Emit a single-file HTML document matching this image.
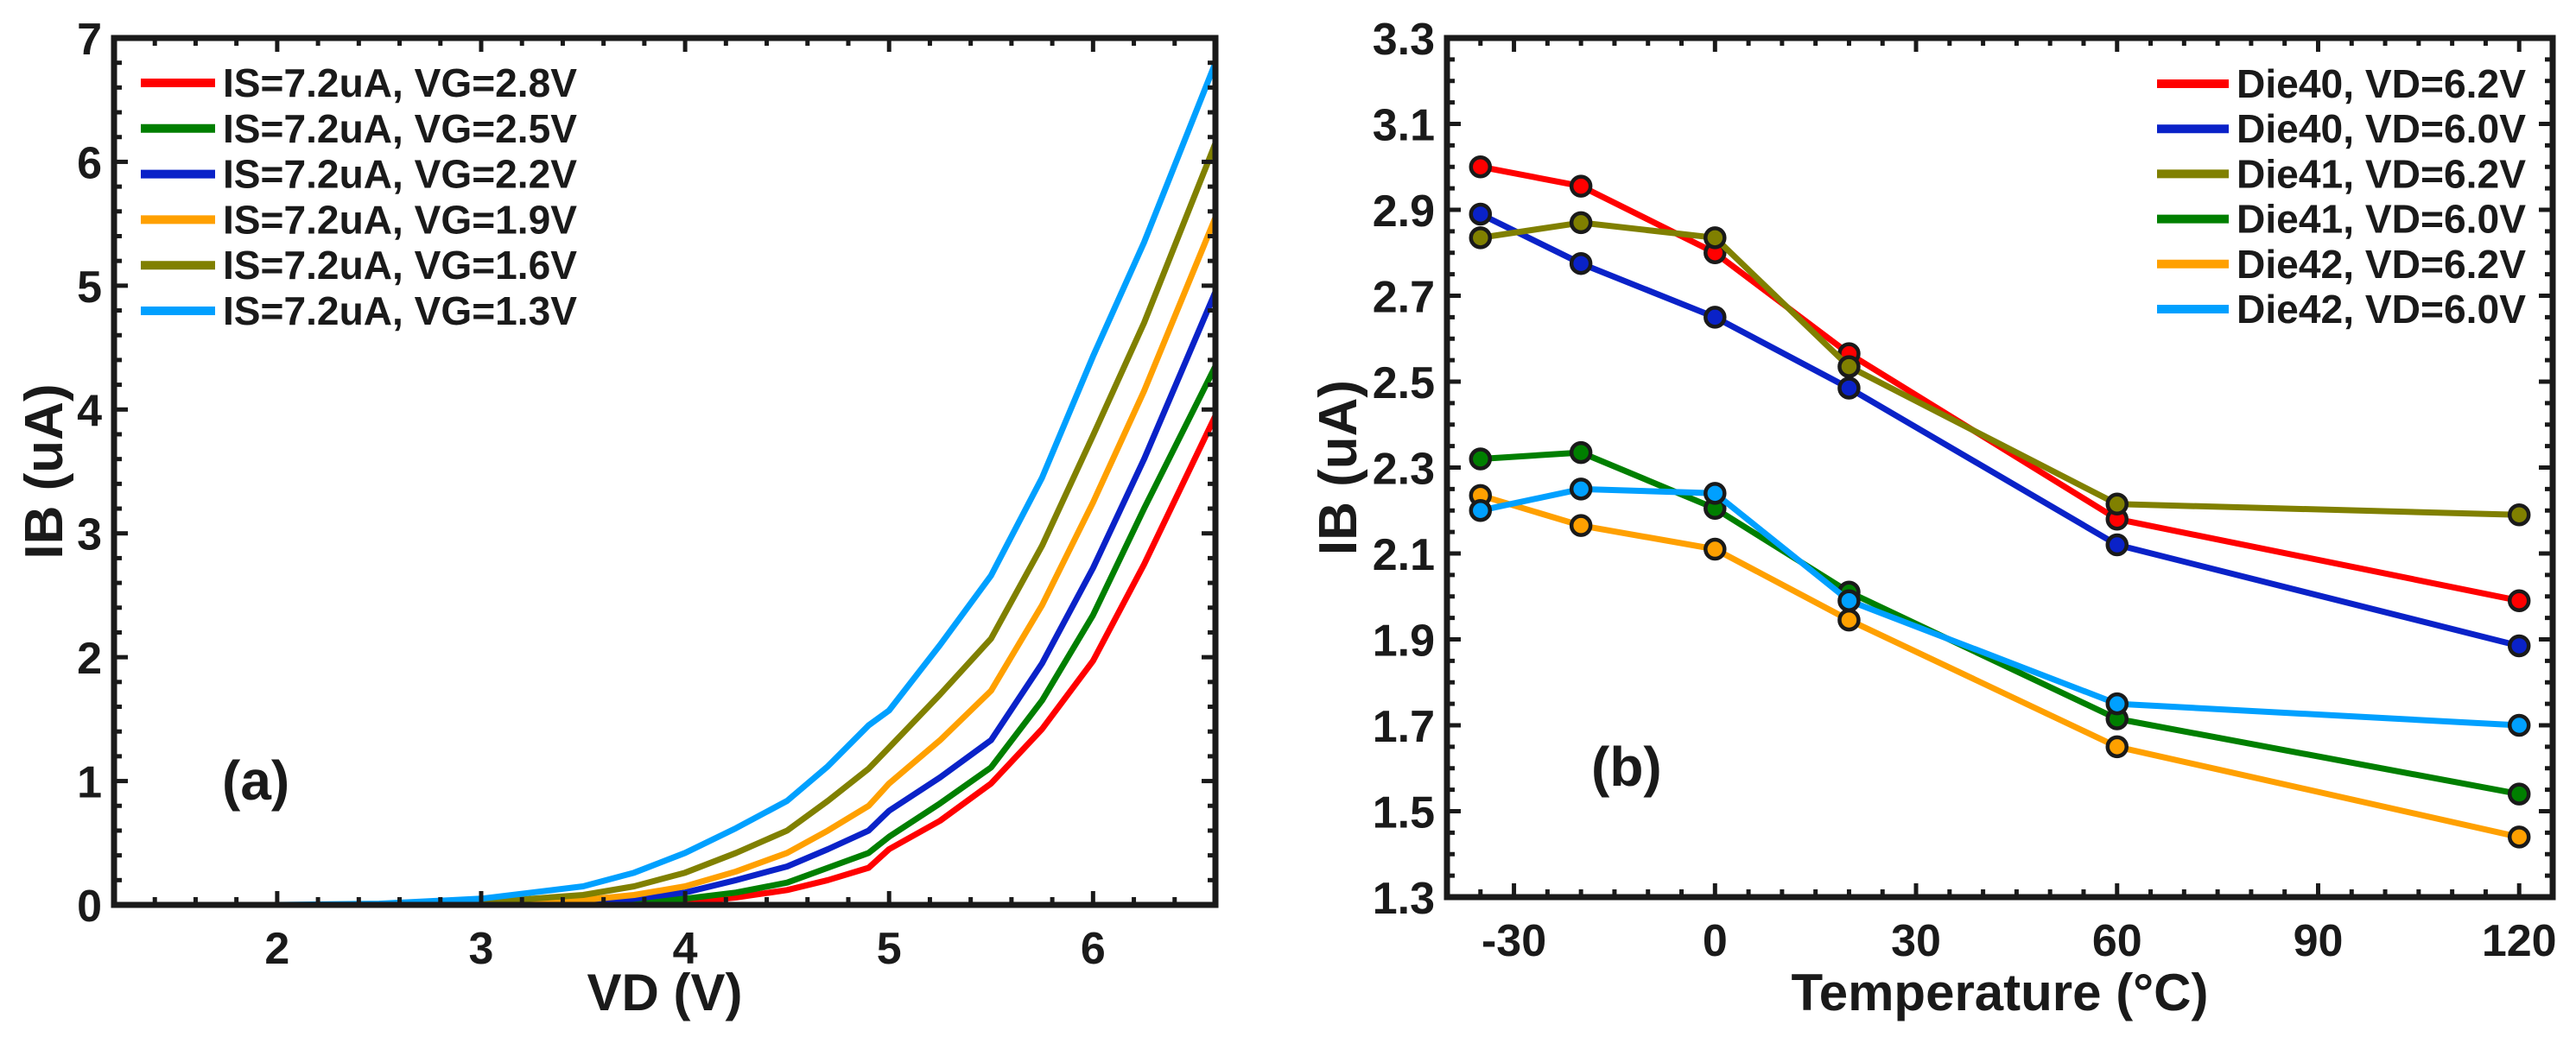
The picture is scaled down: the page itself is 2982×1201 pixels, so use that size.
<!DOCTYPE html>
<html><head><meta charset="utf-8"><style>
html,body{margin:0;padding:0;background:#fff;}
svg{display:block;}
text{font-family:"Liberation Sans",Arial,sans-serif;font-weight:bold;fill:#1a1a1a;}
</style></head><body>
<svg id="fig" width="2982" height="1201" viewBox="0 0 2982 1201" xmlns="http://www.w3.org/2000/svg"></svg>
<script>
// ---- Panel (a) data ----
const vdValues = [1.2, 2, 2.5, 3, 3.5, 3.75, 4, 4.25, 4.5, 4.7, 4.9, 5, 5.25, 5.5, 5.75, 6, 6.25, 6.6];
const ibVG28 = [0, 0, 0, 0, 0, 0, 0.02, 0.06, 0.12, 0.2, 0.3, 0.45, 0.68, 0.98, 1.42, 1.97, 2.75, 3.95];
const ibVG25 = [0, 0, 0, 0, 0, 0.02, 0.05, 0.1, 0.18, 0.3, 0.42, 0.55, 0.82, 1.11, 1.65, 2.34, 3.2, 4.35];
const ibVG22 = [0, 0, 0, 0, 0.02, 0.05, 0.1, 0.2, 0.31, 0.45, 0.6, 0.76, 1.03, 1.33, 1.95, 2.72, 3.6, 4.95];
const ibVG19 = [0, 0, 0, 0.01, 0.04, 0.08, 0.15, 0.27, 0.42, 0.6, 0.8, 0.98, 1.33, 1.73, 2.42, 3.25, 4.15, 5.55];
const ibVG16 = [0, 0, 0, 0.02, 0.08, 0.15, 0.26, 0.42, 0.6, 0.84, 1.1, 1.27, 1.7, 2.15, 2.9, 3.79, 4.7, 6.15];
const ibVG13 = [0, 0, 0.01, 0.05, 0.15, 0.26, 0.42, 0.62, 0.84, 1.12, 1.45, 1.57, 2.1, 2.66, 3.45, 4.43, 5.35, 6.8];
const seriesA = [ibVG28, ibVG25, ibVG22, ibVG19, ibVG16, ibVG13];
const labelsA = ["IS=7.2uA, VG=2.8V","IS=7.2uA, VG=2.5V","IS=7.2uA, VG=2.2V","IS=7.2uA, VG=1.9V","IS=7.2uA, VG=1.6V","IS=7.2uA, VG=1.3V"];
const colorsA = ["#ff0000","#007f00","#0a22c8","#ffa000","#808000","#00a0ff"];
const xTicksA = [2,3,4,5,6];
const yTicksA = [0,1,2,3,4,5,6,7];

// ---- Panel (b) data ----
const temps = [-35, -20, 0, 20, 60, 120];
const die40v62 = [3.00, 2.955, 2.80, 2.565, 2.18, 1.99];
const die40v60 = [2.89, 2.775, 2.65, 2.485, 2.12, 1.885];
const die41v62 = [2.835, 2.87, 2.835, 2.535, 2.215, 2.19];
const die41v60 = [2.32, 2.335, 2.205, 2.01, 1.715, 1.54];
const die42v62 = [2.235, 2.165, 2.11, 1.945, 1.65, 1.44];
const die42v60 = [2.2, 2.25, 2.24, 1.99, 1.75, 1.70];
const seriesB = [die40v62, die40v60, die41v62, die41v60, die42v62, die42v60];
const labelsB = ["Die40, VD=6.2V","Die40, VD=6.0V","Die41, VD=6.2V","Die41, VD=6.0V","Die42, VD=6.2V","Die42, VD=6.0V"];
const colorsB = ["#ff0000","#0a22c8","#808000","#007f00","#ffa000","#00a0ff"];
const xTicksB = [-30,0,30,60,90,120];
const yTicksB = [1.3,1.5,1.7,1.9,2.1,2.3,2.5,2.7,2.9,3.1,3.3];

const NS = "http://www.w3.org/2000/svg";
const svg = document.getElementById('fig');
function el(tag, attrs, parent){
  const e = document.createElementNS(NS, tag);
  for (const k in attrs) e.setAttribute(k, attrs[k]);
  (parent||svg).appendChild(e);
  return e;
}
function fmt(v){ return Math.abs(v - Math.round(v)) < 1e-9 ? String(Math.round(v)) : v.toFixed(1); }

function drawPanel(cfg){
  const g = el('g', {});
  
  
  const {L,R,T,B,xmin,xmax,ymin,ymax} = cfg;
  const sx = v => L + (v - xmin) / (xmax - xmin) * (R - L);
  const sy = v => B - (v - ymin) / (ymax - ymin) * (B - T);
  cfg.series.forEach((ys, i) => {
    const pts = ys.map((y, j) => sx(cfg.xs[j]).toFixed(1) + ',' + sy(y).toFixed(1)).join(' ');
    const pl = el('polyline', {points: pts, fill: 'none', stroke: cfg.colors[i], 'stroke-width': cfg.lw, 'stroke-linejoin': 'round', 'stroke-linecap': 'round'}, g);
    
    
    if (cfg.markers) {
      ys.forEach((y, j) => {
        const c = el('circle', {cx: sx(cfg.xs[j]), cy: sy(y), r: 11, fill: cfg.colors[i], stroke: '#1a1a1a', 'stroke-width': 4.5}, g);
        
        
      });
    }
  });
  const tk = el('g', {stroke: '#1a1a1a', 'stroke-width': 5}, g);
  
  
  for (let v = cfg.xminorStart; v <= xmax + 1e-9; v += cfg.xminor) {
    const x = sx(v);
    if (x <= L + 2 || x >= R - 2) continue;
    const major = cfg.xTicks.some(t => Math.abs(t - v) < 1e-6);
    const len = major ? 16 : 9;
    el('line', {x1: x, y1: B, x2: x, y2: B - len}, tk);
    el('line', {x1: x, y1: T, x2: x, y2: T + len}, tk);
  }
  for (let v = ymin; v <= ymax + 1e-9; v += cfg.yminor) {
    const y = sy(v);
    if (y <= T + 2 || y >= B - 2) continue;
    const major = cfg.yTicks.some(t => Math.abs(t - v) < 1e-6);
    const len = major ? 16 : 9;
    el('line', {x1: L, y1: y, x2: L + len, y2: y}, tk);
    el('line', {x1: R, y1: y, x2: R - len, y2: y}, tk);
  }
  const fr = el('rect', {x: L, y: T, width: R - L, height: B - T, fill: 'none', stroke: '#1a1a1a', 'stroke-width': 7}, g);
  
  
  cfg.xTicks.forEach(v => {
    const t = el('text', {x: sx(v), y: B + 68, 'text-anchor': 'middle', 'font-size': 52}, g);
    t.textContent = fmt(v);
    
    
  });
  cfg.yTicks.forEach(v => {
    const t = el('text', {x: L - 14, y: sy(v) + 19, 'text-anchor': 'end', 'font-size': 52}, g);
    t.textContent = cfg.yfmt(v);
    
    
  });
  const xt = el('text', {x: (L + R) / 2, y: 1170, 'text-anchor': 'middle', 'font-size': 60}, g);
  xt.textContent = cfg.xtitle;
  
  
  const yx = cfg.ytitleX, yy = (T + B) / 2;
  const yt = el('text', {x: yx, y: yy, 'text-anchor': 'middle', 'font-size': 62, transform: `rotate(-90 ${yx} ${yy})`, dy: 22}, g);
  yt.textContent = 'IB (uA)';
  
  
  const pl = el('text', {x: cfg.tagX, y: cfg.tagY, 'font-size': 64}, g);
  pl.textContent = cfg.tag;
  
  
  const lg = el('g', {}, g);
  
  
  cfg.labels.forEach((lab, i) => {
    const y = cfg.legY + i * cfg.legDy;
    const ln = el('line', {x1: cfg.legX1, y1: y, x2: cfg.legX2, y2: y, stroke: cfg.colors[i], 'stroke-width': 10}, lg);
    
    
    const t = el('text', {x: cfg.legTX, y: y + 16, 'font-size': 46, textLength: cfg.legTW, lengthAdjust: 'spacingAndGlyphs'}, lg);
    t.textContent = lab;
    
    
  });
}

drawPanel({name: 'panel-a-chart', L: 132, R: 1407, T: 44, B: 1048, xmin: 1.2, xmax: 6.6, ymin: 0, ymax: 7,
  xs: vdValues, series: seriesA, colors: colorsA, labels: labelsA, lw: 7, markers: false,
  xTicks: xTicksA, yTicks: yTicksA, xminor: 0.2, xminorStart: 1.2, yminor: 0.2, yfmt: v => String(v),
  xtitle: 'VD (V)', ytitleX: 50, tag: '(a)', tagX: 257, tagY: 926,
  legX1: 163, legX2: 249, legTX: 258, legTW: 410, legY: 96, legDy: 52.8});

drawPanel({name: 'panel-b-chart', L: 1675, R: 2955, T: 44, B: 1039, xmin: -40, xmax: 125, ymin: 1.3, ymax: 3.3,
  xs: temps, series: seriesB, colors: colorsB, labels: labelsB, lw: 7, markers: true,
  xTicks: xTicksB, yTicks: yTicksB, xminor: 5, xminorStart: -40, yminor: 0.05, yfmt: v => v.toFixed(1),
  xtitle: 'Temperature  (°C)', ytitleX: 1548, tag: '(b)', tagX: 1842, tagY: 910,
  legX1: 2497, legX2: 2580, legTX: 2589, legTW: 335, legY: 97, legDy: 52.2});
</script>
</body></html>
